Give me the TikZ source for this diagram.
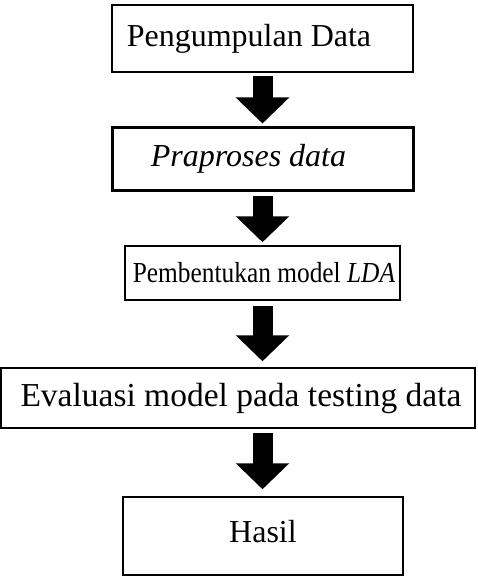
\documentclass[tikz,border=0pt]{standalone}
\usepackage{fontspec}
\setmainfont{Liberation Serif}
\usetikzlibrary{arrows.meta}
\begin{document}
\begin{tikzpicture}[x=1pt,y=-1pt,
  box/.style={draw, line width=1.5pt, inner sep=0pt, font=\fontsize{32}{38}\selectfont},
  thickbox/.style={box, line width=3pt},
  blockarrow/.style={line width=20pt, -{Triangle[width=52pt,length=26pt]}, shorten <=3pt, shorten >=3pt}]
\useasboundingbox (0,0) rectangle (477,588);
\node[box, minimum width=301pt, minimum height=67pt] (b1) at (262.5,38.5) {\hspace*{-27pt}Pengumpulan Data};
\node[thickbox, minimum width=301pt, minimum height=62pt] (b2) at (262.5,159) {\hspace*{-28pt}\textit{Praproses data}};
\node[box, minimum width=275pt, minimum height=54pt, font=\fontsize{29}{34}\selectfont] (b3) at (262.5,273) {\hspace*{3pt}\scalebox{0.875}[1]{Pembentukan model \textit{LDA}}};
\node[box, minimum width=474pt, minimum height=60pt, font=\fontsize{33.5}{40}\selectfont] (b4) at (238,398) {\hspace*{6pt}Evaluasi model pada testing data};
\node[box, minimum width=280pt, minimum height=78pt] (b5) at (263,536) {\raisebox{9pt}{Hasil}};
\draw[blockarrow] (b1.south) -- (b2.north);
\draw[blockarrow, shorten <=4pt] (b2.south) -- (b3.north);
\draw[blockarrow, shorten <=5pt, shorten >=6pt] (b3.south) -- (b3.south |- b4.north);
\draw[blockarrow, shorten <=4pt, shorten >=7pt] (b3.south |- b4.south) -- (b3.south |- b5.north);
\end{tikzpicture}
\end{document}
